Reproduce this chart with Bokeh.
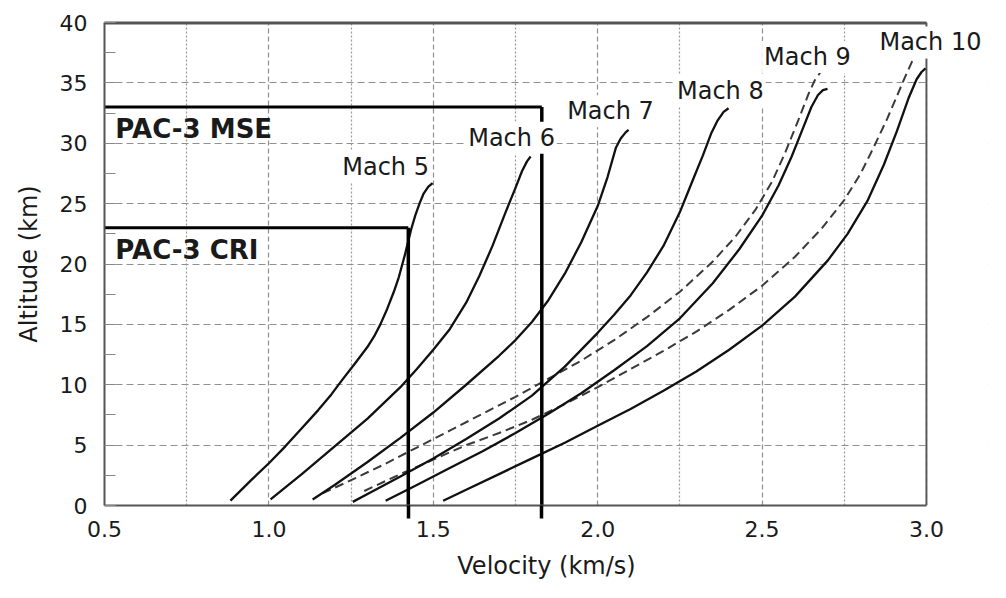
from bokeh.plotting import figure
from bokeh.models import FixedTicker, PrintfTickFormatter, Label, Range1d, LinearAxis, BoxAnnotation
from bokeh.embed import file_html
from bokeh.resources import INLINE

# ---------------- data ----------------
x_ticks = [0.5, 1.0, 1.5, 2.0, 2.5, 3.0]
x_minor = [0.75, 1.25, 1.75, 2.25, 2.75]
y_ticks = [0, 5, 10, 15, 20, 25, 30, 35, 40]
y_minor = [2.5, 7.5, 12.5, 17.5, 22.5, 27.5, 32.5, 37.5]

m5_v = [0.883, 0.95, 1.0, 1.05, 1.1, 1.15, 1.19, 1.223, 1.26, 1.299, 1.32, 1.339, 1.36, 1.38, 1.395, 1.405, 1.415, 1.424, 1.433, 1.445, 1.458, 1.47, 1.485, 1.498]
m5_h = [0.4, 2.2, 3.5, 4.9, 6.4, 7.9, 9.2, 10.4, 11.7, 13.1, 14.0, 15.0, 16.3, 17.7, 18.9, 19.9, 20.9, 21.9, 22.9, 24.0, 25.0, 25.8, 26.4, 26.7]

m6_v = [1.005, 1.1, 1.2, 1.3, 1.4, 1.45, 1.5, 1.55, 1.6, 1.64, 1.68, 1.72, 1.75, 1.77, 1.785, 1.796]
m6_h = [0.5, 2.6, 4.9, 7.2, 9.8, 11.3, 12.9, 14.6, 16.8, 19.0, 21.5, 24.3, 26.3, 27.7, 28.5, 28.9]

m7_v = [1.133, 1.2, 1.3, 1.4, 1.5, 1.6, 1.7, 1.75, 1.8, 1.85, 1.9, 1.95, 2.0, 2.03, 2.055, 2.07, 2.085, 2.094]
m7_h = [0.5, 1.7, 3.6, 5.6, 7.7, 10.0, 12.4, 13.7, 15.2, 17.0, 19.2, 21.8, 24.8, 27.2, 29.6, 30.4, 30.9, 31.1]

m8_v = [1.255, 1.3, 1.4, 1.5, 1.6, 1.7, 1.8, 1.9, 2.0, 2.05, 2.1, 2.15, 2.2, 2.25, 2.29, 2.32, 2.345, 2.365, 2.383, 2.398]
m8_h = [0.3, 0.95, 2.4, 3.9, 5.5, 7.2, 9.1, 11.5, 14.3, 15.8, 17.4, 19.3, 21.5, 24.3, 27.0, 29.0, 30.8, 31.9, 32.6, 32.9]

m9_dash_v = [1.163, 1.25, 1.35, 1.45, 1.55, 1.65, 1.75, 1.85, 1.95, 2.05, 2.15, 2.25, 2.35, 2.42, 2.48, 2.53, 2.57, 2.61, 2.64, 2.66, 2.678]
m9_dash_h = [1.0, 2.1, 3.4, 4.8, 6.2, 7.6, 9.0, 10.5, 12.0, 13.7, 15.6, 17.7, 20.2, 22.3, 24.5, 26.8, 29.2, 31.9, 34.0, 35.2, 35.9]

m9_v = [1.355, 1.45, 1.55, 1.65, 1.75, 1.85, 1.95, 2.05, 2.15, 2.25, 2.35, 2.43, 2.5, 2.55, 2.59, 2.625, 2.65, 2.67, 2.685, 2.699]
m9_h = [0.4, 1.7, 3.1, 4.5, 6.0, 7.6, 9.3, 11.2, 13.2, 15.5, 18.4, 21.2, 24.0, 26.5, 28.9, 31.3, 33.0, 34.0, 34.4, 34.5]

m10_dash_v = [1.29, 1.4, 1.5, 1.6, 1.7, 1.8, 1.9, 2.0, 2.1, 2.2, 2.3, 2.4, 2.5, 2.6, 2.68, 2.75, 2.8, 2.84, 2.88, 2.91, 2.935, 2.96]
m10_dash_h = [1.2, 2.6, 3.8, 5.0, 6.0, 7.1, 8.4, 9.8, 11.3, 12.8, 14.4, 16.2, 18.2, 20.6, 22.9, 25.3, 27.5, 29.7, 32.0, 33.9, 35.5, 37.0]

m10_v = [1.53, 1.6, 1.7, 1.8, 1.9, 2.0, 2.1, 2.2, 2.3, 2.4, 2.5, 2.6, 2.7, 2.76, 2.82, 2.87, 2.91, 2.945, 2.97, 2.985, 2.997]
m10_h = [0.4, 1.3, 2.6, 3.9, 5.2, 6.6, 8.0, 9.5, 11.1, 12.9, 14.9, 17.3, 20.3, 22.5, 25.2, 28.2, 31.0, 33.7, 35.3, 35.9, 36.2]

cri_name, cri_alt, cri_vel = "PAC-3 CRI", 23.0, 1.424
mse_name, mse_alt, mse_vel = "PAC-3 MSE", 33.0, 1.83

mach_names = ["Mach 5", "Mach 6", "Mach 7", "Mach 8", "Mach 9", "Mach 10"]

x_min, x_max = 0.5, 3.0
y_min, y_max = 0, 40

# ---------------- figure ----------------
FONT = "DejaVu Sans"
TXT = "#1a1a1a"
FRAME = "#555555"

# the plotting area runs a little past 3.0 km/s so that the "Mach 10" label can overhang the box
x_view_end = 3.1886
p = figure(width=990, height=582, output_backend="svg", toolbar_location=None,
           x_range=Range1d(x_min, x_view_end), y_range=Range1d(y_min, y_max),
           min_border_left=104, min_border_right=2, min_border_top=22, min_border_bottom=77)
p.background_fill_color = "white"
p.border_fill_color = "white"
p.outline_line_color = None

# axes
xax = p.xaxis[0]
xax.ticker = FixedTicker(ticks=x_ticks, minor_ticks=[cri_vel, mse_vel])
xax.bounds = (x_min, x_max)
xax.formatter = PrintfTickFormatter(format="%.1f")
xax.axis_label = "Velocity (km/s)"
xax.major_tick_in = 0
xax.major_tick_out = 0
xax.minor_tick_in = 0
xax.minor_tick_out = 13
xax.minor_tick_line_color = "black"
xax.minor_tick_line_width = 3.5
xax.major_label_standoff = 2
xax.axis_label_standoff = 12

yax = p.yaxis[0]
yax.ticker = FixedTicker(ticks=y_ticks, minor_ticks=y_minor)
yax.bounds = (y_min, y_max)
yax.axis_label = "Altitude (km)"
yax.major_tick_in = 11
yax.major_tick_out = 0
yax.minor_tick_in = 11
yax.minor_tick_out = 0
yax.major_tick_line_color = "#888888"
yax.minor_tick_line_color = "#888888"
yax.major_label_standoff = 17
yax.axis_label_standoff = 14

for ax in (xax, yax):
    ax.axis_line_color = FRAME
    ax.axis_line_width = 2
    ax.major_label_text_font = FONT
    ax.major_label_text_font_size = "22px"
    ax.major_label_text_color = TXT
    ax.axis_label_text_font = FONT
    ax.axis_label_text_font_size = "24px"
    ax.axis_label_text_font_style = "normal"
    ax.axis_label_text_color = TXT

# top border of the box (an axis whose tick labels are hidden)
top = LinearAxis(ticker=FixedTicker(ticks=[x_min, x_max]), bounds=(x_min, x_max),
                 axis_line_color=FRAME, axis_line_width=2,
                 major_tick_in=0, major_tick_out=0,
                 major_tick_line_color=None, minor_tick_line_color=None,
                 major_label_text_color=None, major_label_text_font_size="1px",
                 major_label_standoff=0)
p.add_layout(top, "above")

# grids
p.xgrid.ticker = FixedTicker(ticks=x_ticks, minor_ticks=x_minor)
p.xgrid.grid_line_color = "#909090"
p.xgrid.grid_line_dash = "5 3"
p.xgrid.grid_line_width = 1.2
p.xgrid.minor_grid_line_color = "#9a9a9a"
p.xgrid.minor_grid_line_dash = "2 2"
p.xgrid.minor_grid_line_width = 1.2
p.ygrid.ticker = FixedTicker(ticks=y_ticks)
p.ygrid.grid_line_color = "#909090"
p.ygrid.grid_line_dash = "7 4"
p.ygrid.grid_line_width = 1.2

# blank the grid to the right of the box, then draw the right and top borders
p.add_layout(BoxAnnotation(left=x_max + 0.004, right=x_view_end + 1, bottom=y_min - 5, top=y_max + 5,
                           fill_color="white", fill_alpha=1.0, line_color=None))
p.line([x_max, x_max], [y_min, y_max], line_color=FRAME, line_width=2)
p.line([x_min, x_max], [y_max, y_max], line_color=FRAME, line_width=4)

# curves
solid = [(m5_v, m5_h), (m6_v, m6_h), (m7_v, m7_h), (m8_v, m8_h), (m9_v, m9_h), (m10_v, m10_h)]
dashed = [(m9_dash_v, m9_dash_h), (m10_dash_v, m10_dash_h)]
for xs, ys in dashed:
    p.line(xs, ys, line_color="#3a3a3a", line_width=2, line_dash="9 5", line_join="round")
for xs, ys in solid:
    p.line(xs, ys, line_color="#111111", line_width=2.3, line_join="round")

# PAC-3 limits
p.line([x_min, cri_vel], [cri_alt, cri_alt], line_color="black", line_width=3)
p.line([cri_vel, cri_vel], [cri_alt, y_min], line_color="black", line_width=3.5)
p.line([x_min, mse_vel], [mse_alt, mse_alt], line_color="black", line_width=3)
p.line([mse_vel, mse_vel], [mse_alt, y_min], line_color="black", line_width=3.5)

# labels
for name, alt in ((mse_name, 31.2), (cri_name, 21.15)):
    p.add_layout(Label(x=0.533, y=alt, text=name, text_align="left", text_baseline="alphabetic",
                       text_font=FONT, text_font_size="26px", text_font_style="bold",
                       text_color=TXT))

mach_pos = [(1.355, 28.05), (1.738, 30.45), (2.039, 32.65), (2.373, 34.35), (2.638, 37.15), (3.012, 38.35)]
for name, (lx, ly) in zip(mach_names, mach_pos):
    p.add_layout(Label(x=lx, y=ly, text=name, text_align="center", text_baseline="alphabetic",
                       text_font=FONT, text_font_size="24px", text_color=TXT,
                       background_fill_color="white", padding=2))

open("out.html", "w").write(file_html(p, INLINE))
